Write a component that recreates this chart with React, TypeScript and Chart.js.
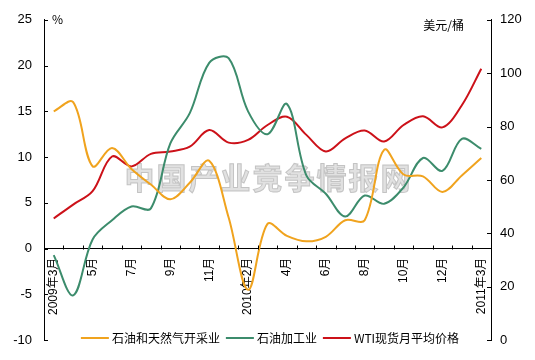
import { useEffect, useRef } from 'react';
import { Chart, registerables } from 'chart.js';

Chart.register(...registerables);

const categories = [
  '2009年3月', '2009年4月', '2009年5月', '2009年6月', '2009年7月', '2009年8月', '2009年9月', '2009年10月', '2009年11月', '2009年12月',
  '2010年2月', '2010年3月', '2010年4月', '2010年5月', '2010年6月', '2010年7月', '2010年8月', '2010年9月', '2010年10月', '2010年11月', '2010年12月',
  '2011年2月', '2011年3月',
];

const xTickLabels = [
  '2009年3月', '', '5月', '', '7月', '', '9月', '', '11月', '',
  '2010年2月', '', '4月', '', '6月', '', '8月', '', '10月', '', '12月',
  '', '2011年3月',
];

const oilGasExtraction = [15.0, 16.0, 9.0, 11.0, 8.7, 7.0, 5.4, 7.2, 9.6, 3.4, -4.5, 2.7, 1.4, 0.8, 1.3, 3.1, 3.1, 10.8, 8.1, 7.9, 6.2, 8.0, 9.9];
const petroleumProcessing = [-0.7, -5.1, 1.0, 3.1, 4.6, 4.4, 11.5, 14.8, 20.3, 20.8, 15.0, 12.5, 15.8, 8.0, 6.0, 3.5, 5.8, 4.9, 6.7, 9.9, 8.5, 12.0, 10.9];
const wtiPrice = [45.6, 50.8, 55.8, 68.8, 65.1, 69.8, 70.7, 72.5, 78.7, 74.0, 75.0, 80.6, 83.7, 76.9, 70.7, 75.6, 78.5, 74.4, 80.6, 83.9, 79.7, 88.0, 101.7];

const seriesNames = ['石油和天然气开采业', '石油加工业', 'WTI现货月平均价格'];
const seriesColors = ['#F0A31E', '#3C8C6C', '#CC1119'];

const leftTitle = '%';
const rightTitle = '美元/桶';
const watermark = '中国产业竞争情报网';

const FONT = "'Liberation Sans', Arial, 'Noto Sans CJK SC', sans-serif";
const CJK = "'Noto Sans CJK SC', 'Liberation Sans', sans-serif";

const decorPlugin = {
  id: 'decor',
  beforeDatasetsDraw(chart: any) {
    const { ctx, chartArea } = chart;
    ctx.save();
    ctx.font = `bold 30px ${CJK}`;
    (ctx as any).letterSpacing = '2px';
    ctx.textAlign = 'center';
    ctx.textBaseline = 'middle';
    ctx.fillStyle = 'rgba(222,222,222,0.9)';
    ctx.strokeStyle = 'rgba(185,185,185,0.8)';
    ctx.lineWidth = 1;
    const cx = (chartArea.left + chartArea.right) / 2 + 1;
    ctx.fillText(watermark, cx, 178);
    ctx.strokeText(watermark, cx, 178);
    ctx.restore();
  },
  afterDraw(chart: any) {
    const { ctx, chartArea, scales } = chart;
    const y = scales.y;
    const y1 = scales.y1;
    const x = scales.x;
    ctx.save();
    ctx.strokeStyle = '#000';
    ctx.lineWidth = 1;
    ctx.beginPath();
    y.ticks.forEach((_: any, i: number) => {
      const py = Math.round(y.getPixelForTick(i)) + 0.5;
      ctx.moveTo(chartArea.left, py);
      ctx.lineTo(chartArea.left + 4, py);
    });
    y1.ticks.forEach((_: any, i: number) => {
      const py = Math.round(y1.getPixelForTick(i)) + 0.5;
      ctx.moveTo(chartArea.right, py);
      ctx.lineTo(chartArea.right - 4, py);
    });
    const y0 = Math.round(y.getPixelForValue(0)) + 0.5;
    const n = categories.length;
    for (let i = 1; i <= n; i++) {
      const px = Math.round(x.left + (i * x.width) / n) + 0.5;
      ctx.moveTo(px, y0);
      ctx.lineTo(px, y0 - 4);
    }
    ctx.stroke();

    // axis titles
    ctx.fillStyle = '#000';
    ctx.font = `12px ${CJK}`;
    ctx.textBaseline = 'middle';
    ctx.textAlign = 'left';
    ctx.fillText(leftTitle, chartArea.left + 8, 19);
    ctx.textAlign = 'right';
    ctx.fillText(rightTitle, chartArea.right - 27, 25);

    // legend
    const datasets = chart.data.datasets;
    const lineLen = 28;
    const gapLT = 3;
    const gapItem = 6;
    ctx.font = `12px ${CJK}`;
    const widths = datasets.map((d: any) => ctx.measureText(d.label).width);
    const total = widths.reduce((a: number, w: number) => a + lineLen + gapLT + w, 0) + gapItem * (datasets.length - 1);
    let lx = 270 - total / 2;
    const ly = 338;
    datasets.forEach((d: any, i: number) => {
      ctx.strokeStyle = d.borderColor;
      ctx.lineWidth = 2;
      ctx.beginPath();
      ctx.moveTo(lx, ly);
      ctx.lineTo(lx + lineLen, ly);
      ctx.stroke();
      lx += lineLen + gapLT;
      ctx.fillStyle = '#000';
      ctx.textAlign = 'left';
      ctx.fillText(d.label, lx, ly);
      lx += widths[i] + gapItem;
    });
    ctx.restore();
  },
};

export default function App() {
  const canvasRef = useRef<HTMLCanvasElement | null>(null);

  useEffect(() => {
    if (!canvasRef.current) return;
    const mk = (label: string, data: number[], color: string, axis: string) => ({
      label,
      data,
      borderColor: color,
      backgroundColor: color,
      borderWidth: 2,
      pointRadius: 0,
      tension: 0.35,
      fill: false,
      yAxisID: axis,
    });
    const chart = new Chart(canvasRef.current, {
      type: 'line',
      data: {
        labels: categories,
        datasets: [
          mk(seriesNames[0], oilGasExtraction, seriesColors[0], 'y'),
          mk(seriesNames[1], petroleumProcessing, seriesColors[1], 'y'),
          mk(seriesNames[2], wtiPrice, seriesColors[2], 'y1'),
        ],
      },
      options: {
        animation: false,
        responsive: false,
        layout: { padding: { top: 19, bottom: 18, left: 0, right: 0 } },
        plugins: {
          legend: { display: false },
          tooltip: { enabled: false },
        },
        scales: {
          x: {
            type: 'category',
            position: { y: 0 } as any,
            offset: true,
            grid: { display: true, drawOnChartArea: false, drawTicks: false, offset: true },
            border: { display: true, color: '#000', width: 1 },
            ticks: {
              autoSkip: false,
              minRotation: 90,
              maxRotation: 90,
              padding: 9,
              color: '#000',
              font: { family: FONT, size: 12 },
              callback: (_v: any, i: number) => xTickLabels[i],
            },
          },
          y: {
            type: 'linear',
            position: 'left',
            min: -10,
            max: 25,
            afterFit: (s: any) => { s.width = 44; },
            grid: { display: true, drawOnChartArea: false, drawTicks: false },
            border: { display: true, color: '#000', width: 1 },
            ticks: { stepSize: 5, padding: 12, color: '#000', font: { family: FONT, size: 13 } },
          },
          y1: {
            type: 'linear',
            position: 'right',
            min: 0,
            max: 120,
            afterFit: (s: any) => { s.width = 44; },
            grid: { display: true, drawOnChartArea: false, drawTicks: false },
            border: { display: true, color: '#000', width: 1 },
            ticks: { stepSize: 20, padding: 9, color: '#000', font: { family: FONT, size: 13 } },
          },
        },
      },
      plugins: [decorPlugin],
    });
    return () => chart.destroy();
  }, []);

  return (
    <div style={{ position: 'fixed', left: 0, top: 0, width: 535, height: 360, background: '#fff' }}>
      <canvas ref={canvasRef} width={535} height={360} style={{ display: 'block' }} />
    </div>
  );
}
